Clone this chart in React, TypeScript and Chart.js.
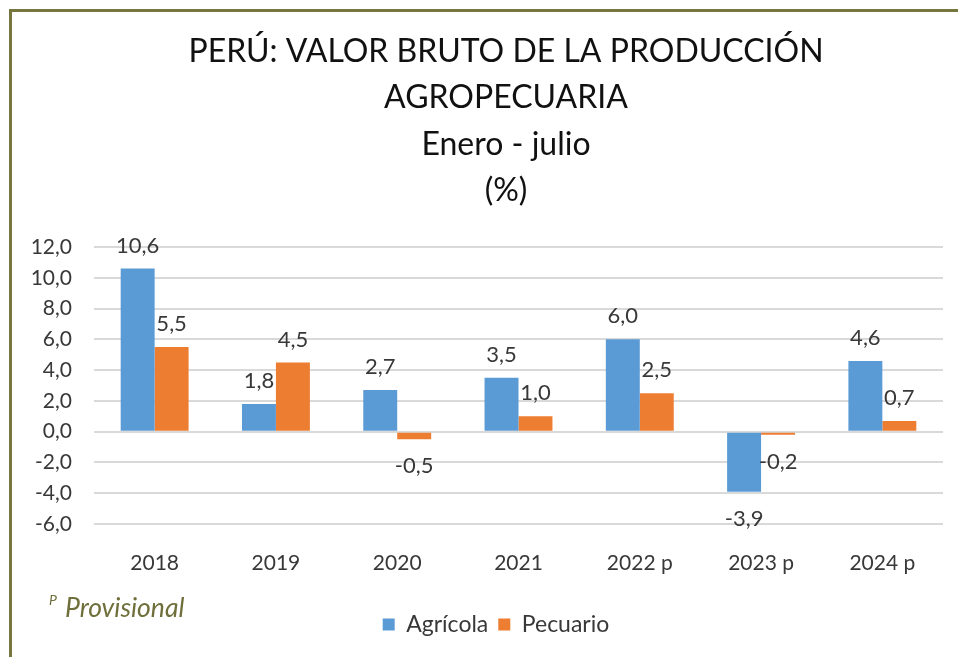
import React, { useEffect, useRef } from "react";
import { Chart, registerables } from "chart.js";

Chart.register(...registerables);

const categories = ["2018", "2019", "2020", "2021", "2022 p", "2023 p", "2024 p"];
const agricola = [10.6, 1.8, 2.7, 3.5, 6.0, -3.9, 4.6];
const pecuario = [5.5, 4.5, -0.5, 1.0, 2.5, -0.2, 0.7];
const seriesNames = ["Agrícola", "Pecuario"];
const titleLines = ["PERÚ: VALOR BRUTO DE LA PRODUCCIÓN", "AGROPECUARIA", "Enero - julio", "(%)"];
const yMin = -6;
const yMax = 12;
const yStep = 2;

const FONT = "Lato";
const TEXT = "#383838";
const fmt = (v: number) => v.toFixed(1).replace(".", ",");

const decorPlugin = {
  id: "decor",
  afterDraw(chart: any) {
    const ctx = chart.ctx as CanvasRenderingContext2D;
    ctx.save();
    // Title
    ctx.fillStyle = "#111111";
    ctx.textAlign = "center";
    ctx.textBaseline = "middle";
    ctx.font = `32px ${FONT}`;
    const ys = [52, 98, 145, 191];
    titleLines.forEach((t, i) => ctx.fillText(t, 506, ys[i]));

    // Footnote
    ctx.fillStyle = "#6f6f3c";
    ctx.textAlign = "left";
    ctx.font = `italic 14px ${FONT}`;
    ctx.fillText("P", 49, 600);
    ctx.font = `italic 26.5px ${FONT}`;
    ctx.fillText("Provisional", 65, 608);

    // Data labels
    ctx.fillStyle = TEXT;
    ctx.textAlign = "center";
    ctx.font = `22px ${FONT}`;
    chart.data.datasets.forEach((ds: any, di: number) => {
      const meta = chart.getDatasetMeta(di);
      meta.data.forEach((el: any, i: number) => {
        const v = ds.data[i] as number;
        const y = v >= 0 ? el.y - 23 : el.y + 27;
        ctx.fillText(fmt(v), el.x, y);
      });
    });
    ctx.restore();
  },
};

export default function App() {
  const ref = useRef<HTMLCanvasElement | null>(null);
  useEffect(() => {
    if (!ref.current) return;
    const chart = new Chart(ref.current, {
      type: "bar",
      data: {
        labels: categories,
        datasets: [
          {
            label: seriesNames[0],
            data: agricola,
            backgroundColor: "#5B9BD5",
            categoryPercentage: 0.56,
            barPercentage: 1,
          },
          {
            label: seriesNames[1],
            data: pecuario,
            backgroundColor: "#ED7D31",
            categoryPercentage: 0.56,
            barPercentage: 1,
          },
        ],
      },
      options: {
        responsive: false,
        animation: false,
        layout: { padding: { left: 0, right: 0, top: 247, bottom: 11 } },
        plugins: {
          title: { display: false },
          tooltip: { enabled: false },
          legend: {
            display: true,
            position: "bottom",
            labels: {
              font: { family: FONT, size: 23 },
              color: TEXT,
              boxWidth: 12,
              boxHeight: 12,
              padding: 10,
            },
          },
        },
        scales: {
          x: {
            grid: { display: false },
            border: { display: false },
            ticks: {
              font: { family: FONT, size: 21 },
              color: TEXT,
              padding: 19,
            },
            afterFit(scale: any) {
              scale.height = 79;
            },
          },
          y: {
            min: yMin,
            max: yMax,
            grid: { color: "#d9d9d9", lineWidth: 2, drawTicks: false },
            border: { display: false },
            ticks: {
              stepSize: yStep,
              font: { family: FONT, size: 21 },
              color: TEXT,
              padding: 22,
              callback: (v: any) => fmt(Number(v)),
            },
            afterFit(scale: any) {
              scale.width = 94;
            },
          },
          yRight: {
            type: "linear",
            position: "right",
            display: true,
            grid: { display: false, drawTicks: false },
            border: { display: false },
            ticks: { display: false },
            afterFit(scale: any) {
              scale.width = 49;
            },
          },
        },
      },
      plugins: [decorPlugin],
    });
    return () => chart.destroy();
  }, []);

  return (
    <div
      style={{
        position: "fixed",
        left: 0,
        top: 0,
        width: 958,
        height: 657,
        overflow: "hidden",
        background: "#ffffff",
      }}
    >
      <canvas ref={ref} width={992} height={657} style={{ position: "absolute", left: 0, top: 0 }} />
      <div
        style={{
          position: "absolute",
          left: 9,
          top: 9,
          width: 1000,
          height: 700,
          borderTop: "3px solid #76763f",
          borderLeft: "3px solid #76763f",
          pointerEvents: "none",
        }}
      />
    </div>
  );
}
